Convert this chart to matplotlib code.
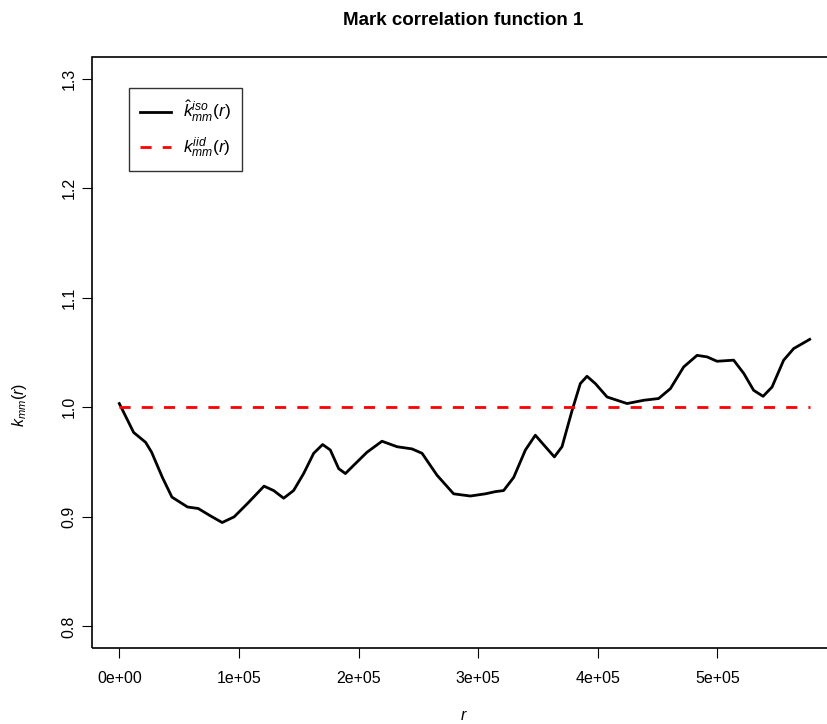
import matplotlib
matplotlib.use("Agg")
import matplotlib.pyplot as plt

plt.rcParams['font.family'] = ['Liberation Sans', 'DejaVu Sans']
plt.rcParams['mathtext.fontset'] = 'custom'
plt.rcParams['mathtext.rm'] = 'Liberation Sans'
plt.rcParams['mathtext.it'] = 'Liberation Sans:italic'

# values
r = [0, 12000, 22000, 27000, 36000, 44000, 57000, 66000, 76000, 86000,
     96000, 107000, 121000, 129000, 137400, 145700, 154100, 162500, 170000,
     176400, 183400, 189000, 195900, 207100, 219600, 232200, 244700, 253100,
     265600, 279500, 293500, 306000, 314400, 321300, 329700, 339500, 347800,
     356200, 363700, 370100, 378500, 385400, 391000, 398000, 407800, 424500,
     438400, 450900, 460700, 471800, 483000, 491400, 499700, 513600, 522000,
     530300, 538200, 545700, 555400, 563800, 577200]
kmm_iso = [1.0034, 0.977, 0.968, 0.959, 0.936, 0.918, 0.909, 0.9076, 0.901,
           0.8948, 0.900, 0.912, 0.928, 0.924, 0.917, 0.924, 0.9395, 0.958,
           0.966, 0.961, 0.944, 0.9395, 0.947, 0.959, 0.969, 0.964, 0.962,
           0.958, 0.938, 0.921, 0.919, 0.921, 0.923, 0.924, 0.936, 0.961,
           0.9745, 0.964, 0.9547, 0.964, 0.997, 1.0216, 1.0283, 1.0216,
           1.0094, 1.0034, 1.0064, 1.008, 1.017, 1.0368, 1.0474, 1.046,
           1.042, 1.043, 1.031, 1.0155, 1.010, 1.0185, 1.043, 1.0536, 1.062]
kmm_iid = 1.0

xticks = [0, 100000, 200000, 300000, 400000, 500000]
xtick_labels = ['0e+00', '1e+05', '2e+05', '3e+05', '4e+05', '5e+05']
yticks = [0.8, 0.9, 1.0, 1.1, 1.2, 1.3]

W, H = 828, 724
fig = plt.figure(figsize=(W / 100, H / 100), dpi=100)
ax = fig.add_axes([91.7 / W, 1 - 648.3 / H, (837 - 91.7) / W, (648.3 - 56.7) / H])

ax.plot(r, kmm_iso, color='black', lw=2, solid_joinstyle='round',
        label=r'$\hat{k}^{iso}_{mm}(r)$')
ax.plot([r[0], r[-1]], [kmm_iid, kmm_iid], color='red', lw=2,
        dashes=(4, 4), label=r'$k^{iid}_{mm}(r)$')

ax.set_xlim(-23080, 600000)
ax.set_ylim(0.78, 1.32)
ax.set_xticks(xticks)
ax.set_xticklabels(xtick_labels)
ax.set_yticks(yticks)
ax.set_yticklabels([f'{v:.1f}' for v in yticks], rotation=90, va='center')
ax.tick_params(length=7, width=0.8, labelsize=11.5)
ax.tick_params(axis='x', pad=9.5)
ax.tick_params(axis='y', pad=4)

# R-style box drawn as a frame
for s in ax.spines.values():
    s.set_visible(False)
box = plt.Rectangle((0, 0), 1, 1, transform=ax.transAxes, fill=False,
                    lw=1.2, color='black', clip_on=False)
ax.add_patch(box)

fig.text(463 / W, 1 - 716 / H, 'r', fontstyle='italic', fontsize=11.5,
         ha='center', va='center')
fig.text(20 / W, 1 - 405 / H, r'$k_{mm}(r)$', fontsize=11.5, rotation=90,
         ha='center', va='center')
fig.text(463 / W, 1 - 25 / H, 'Mark correlation function 1', fontweight='bold',
         fontsize=13.5, ha='center', va='baseline')

leg = ax.legend(loc='upper left',
                bbox_to_anchor=((129 - 91.7) / 745.3, 1 - (88 - 56.7) / 591.6),
                borderaxespad=0, fontsize=12.5, frameon=True, fancybox=False,
                edgecolor='black', borderpad=0.65, handlelength=1.75,
                handletextpad=0.7, labelspacing=0.65)
leg.get_frame().set_linewidth(1)

fig.savefig('out.png', dpi=100)
